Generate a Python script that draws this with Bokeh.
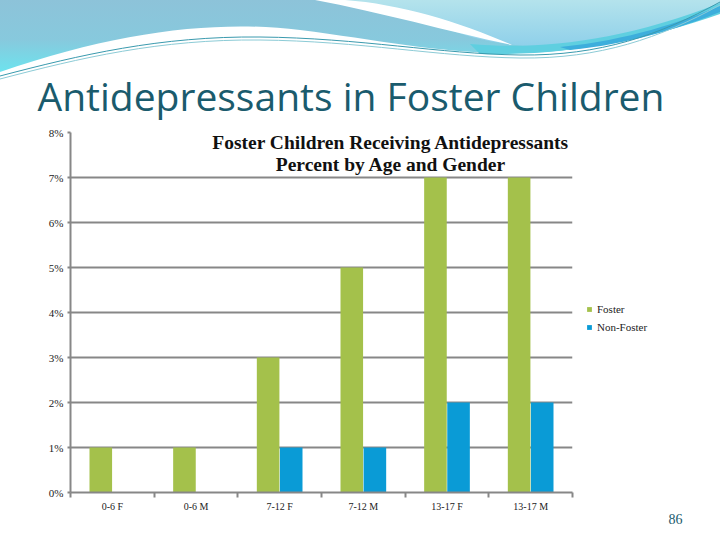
from urllib.parse import quote
from bokeh.plotting import figure
from bokeh.models import (Range1d, LinearAxis, FixedTicker, ColumnDataSource, Legend,
                          LegendItem, Label, Grid, Title)
from bokeh.transform import dodge
from bokeh.embed import file_html
from bokeh.resources import INLINE

# ---------------- data ----------------
categories = ["0-6 F", "0-6 M", "7-12 F", "7-12 M", "13-17 F", "13-17 M"]
foster = [1, 1, 3, 5, 7, 7]
non_foster = [0, 0, 1, 1, 2, 2]
series_names = ["Foster", "Non-Foster"]
y_ticks = [0, 1, 2, 3, 4, 5, 6, 7, 8]
y_tick_labels = ["0%", "1%", "2%", "3%", "4%", "5%", "6%", "7%", "8%"]
chart_title = ["Foster Children Receiving Antidepressants", "Percent by Age and Gender"]
slide_title = "Antidepressants in Foster Children"
page_number = "86"

# ---------------- styles ----------------
GREEN = "#A4C14B"
BLUE = "#0A9BD6"
GRID = "#878787"
TEAL = "#1A5B6D"
SERIF = "Liberation Serif"

# ---------------- decorative wave (page background) ----------------
wave_svg = (
    "<svg xmlns='http://www.w3.org/2000/svg' width='720' height='540'>"
    "<defs>"
    "<linearGradient id='ga' x1='0' y1='0' x2='0' y2='1'>"
    "<stop offset='0' stop-color='#8DC3D9'/><stop offset='0.55' stop-color='#87C9DD'/>"
    "<stop offset='1' stop-color='#6DE3EE'/></linearGradient>"
    "<linearGradient id='gb' x1='0' y1='0' x2='0' y2='1'>"
    "<stop offset='0' stop-color='#B4E3EC'/><stop offset='1' stop-color='#8FD0EA'/>"
    "</linearGradient>"
    "</defs>"
    "<path d='M0,0 L720,0 L720,5 C660,30 600,52 520,53 C440,54 380,40 300,30 "
    "C220,20 120,30 0,72 Z' fill='url(#ga)'/>"
    "<path d='M330,0 L720,0 L720,5 C670,28 600,46 540,46 C500,46 470,38 440,26 "
    "C410,14 370,4 330,0 Z' fill='url(#gb)'/>"
    "<path d='M470,44 C540,50 620,42 720,3 L720,14 C640,42 560,56 480,54 Z' fill='#5FCFE0'/>"
    "<path d='M560,47 C630,40 680,22 720,6 L720,12 C680,28 630,44 570,50 Z' fill='#3DAEDC'/>"
    "<path d='M315,0 L345,0 C400,4 460,22 512,45 C450,32 380,12 315,0 Z' fill='white'/>"
    "<path d='M0,76 C80,55 160,36 260,37 C360,38 440,54 520,55 C600,56 660,35 720,2' "
    "fill='none' stroke='#3A9AAE' stroke-width='1'/>"
    "<path d='M0,79 C80,58 160,39 260,40 C360,41 440,57 520,58 C600,59 660,38 720,5' "
    "fill='none' stroke='#8CCBD6' stroke-width='1'/>"
    "</svg>"
)

# ---------------- chart ----------------
n = len(categories)
centers = [i + 0.5 for i in range(n)]
bounds = list(range(n + 1))

p = figure(frame_width=502, frame_height=360, x_range=Range1d(0, n), y_range=Range1d(0, 8),
           output_backend="svg", toolbar_location=None,
           x_axis_location=None, y_axis_location=None,
           min_border_left=70, min_border_right=140, min_border_top=132, min_border_bottom=40)
p.grid.grid_line_color = None
p.outline_line_color = None
p.border_fill_color = None
p.background_fill_color = "white"
p.styles = {"background-image": 'url("data:image/svg+xml;utf8,' + quote(wave_svg) + '")',
            "background-repeat": "no-repeat", "background-color": "white"}

p.add_layout(Grid(dimension=1, ticker=FixedTicker(ticks=y_ticks),
                  grid_line_color=GRID, grid_line_width=2))

yaxis = LinearAxis(ticker=FixedTicker(ticks=y_ticks),
                   major_label_overrides={t: l for t, l in zip(y_ticks, y_tick_labels)},
                   axis_line_color=GRID, axis_line_width=2,
                   major_tick_line_color=GRID, major_tick_line_width=2,
                   major_tick_in=0, major_tick_out=3, minor_tick_line_color=None,
                   major_label_standoff=4, major_label_text_font=SERIF,
                   major_label_text_font_size="11px", major_label_text_color="#222222")
p.add_layout(yaxis, "left")

xaxis = LinearAxis(ticker=FixedTicker(ticks=centers, minor_ticks=bounds),
                   major_label_overrides={c: lab for c, lab in zip(centers, categories)},
                   axis_line_color=GRID, axis_line_width=2,
                   major_tick_line_color=None, major_tick_in=0, major_tick_out=0,
                   minor_tick_line_color=GRID, minor_tick_line_width=2,
                   minor_tick_in=0, minor_tick_out=5, major_label_standoff=3,
                   major_label_text_font=SERIF, major_label_text_font_size="10px",
                   major_label_text_color="#222222")
p.add_layout(xaxis, "below")

src = ColumnDataSource(dict(x=centers, foster=foster, non_foster=non_foster))
r1 = p.vbar(x=dodge("x", -0.138), top="foster", width=0.27,
            source=src, fill_color=GREEN, line_color=None)
r2 = p.vbar(x=dodge("x", 0.138), top="non_foster", width=0.27,
            source=src, fill_color=BLUE, line_color=None)

legend = Legend(items=[LegendItem(label=series_names[0], renderers=[r1]),
                       LegendItem(label=series_names[1], renderers=[r2])],
                location=(14, 159), margin=0, padding=8, spacing=6,
                glyph_width=6, glyph_height=6, label_height=12, label_standoff=5,
                label_text_font=SERIF, label_text_font_size="11px",
                label_text_color="#222222", border_line_color=None,
                background_fill_alpha=0)
p.add_layout(legend, "right")

p.add_layout(Label(x=3.83, y=7.78, text=chart_title[0], text_font=SERIF,
                   text_font_style="bold", text_font_size="19.5px", text_color="#111111",
                   text_align="center", text_baseline="middle"))
p.add_layout(Label(x=3.83, y=7.29, text=chart_title[1], text_font=SERIF,
                   text_font_style="bold", text_font_size="19.5px", text_color="#111111",
                   text_align="center", text_baseline="middle"))

p.add_layout(Title(text=slide_title, align="left", offset=-33, standoff=22,
                   text_font="Open Sans", text_font_size="39px", text_font_style="normal",
                   text_color=TEAL), "above")
p.add_layout(Title(text=page_number, align="right", offset=-110, standoff=-6,
                   text_font=SERIF, text_font_size="14px", text_font_style="normal",
                   text_color=TEAL), "below")

open("out.html", "w").write(file_html(p, INLINE))
